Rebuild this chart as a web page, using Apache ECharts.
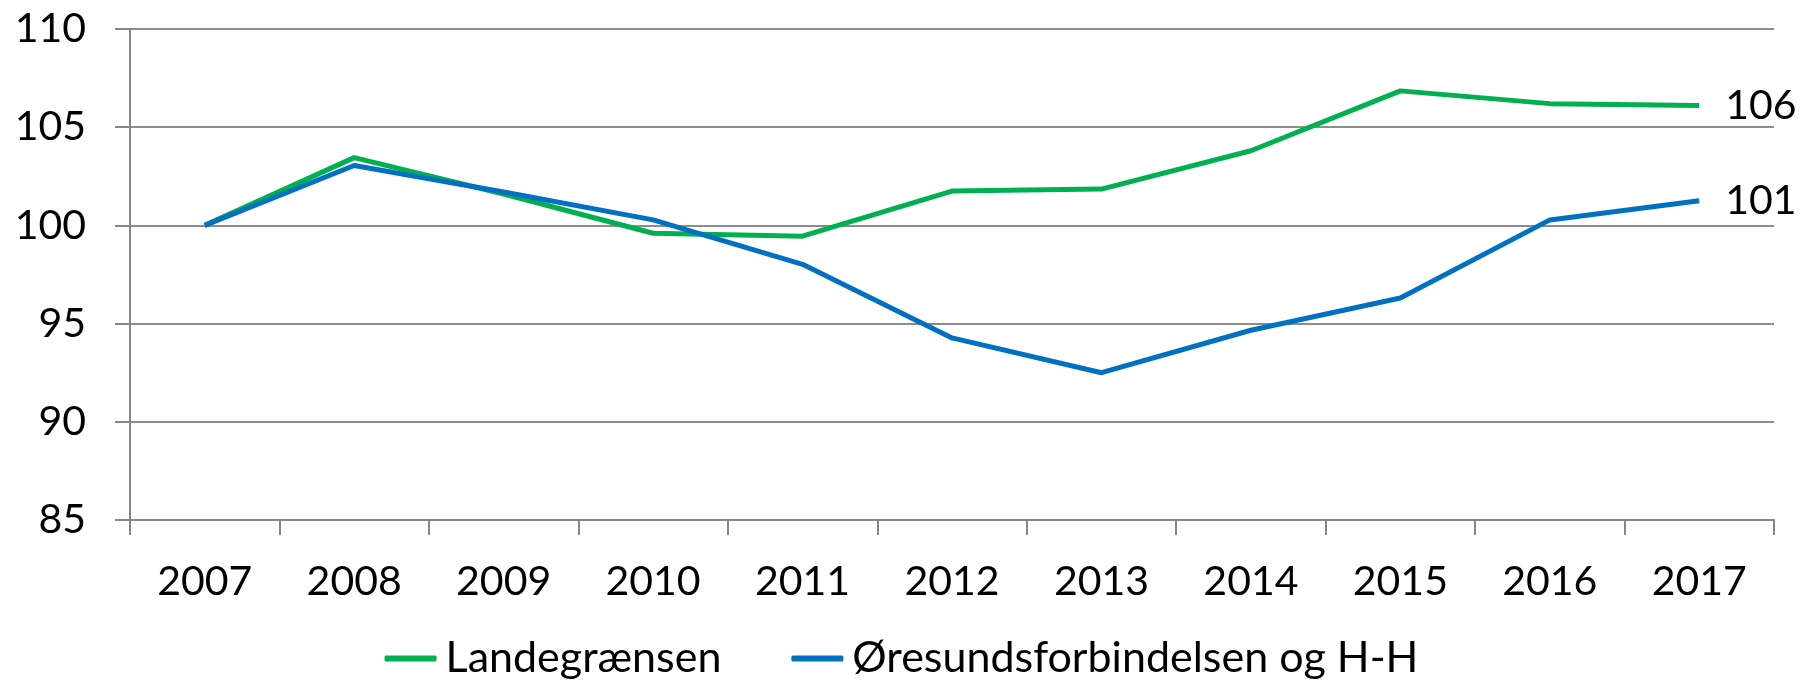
<!DOCTYPE html>
<html>
<head>
<meta charset="utf-8">
<script src="https://cdn.jsdelivr.net/npm/echarts@6/dist/echarts.min.js"></script>
<style>
html,body{margin:0;padding:0;background:#fff;}
#chart{width:1803px;height:685px;}
</style>
</head>
<body>
<div id="chart"></div>
<script>
const years = ['2007','2008','2009','2010','2011','2012','2013','2014','2015','2016','2017'];
const landegraensen = [100, 103.45, 101.6, 99.6, 99.45, 101.75, 101.85, 103.8, 106.85, 106.2, 106.1];
const oresund = [100, 103.05, 101.7, 100.28, 98.02, 94.27, 92.5, 94.66, 96.3, 100.28, 101.25];
const seriesNames = ['Landegrænsen', 'Øresundsforbindelsen og H-H'];
const yTicks = {min: 85, max: 110, interval: 5};

const FONT = 'Lato';
const chart = echarts.init(document.getElementById('chart'));
const endLabel = {
  show: true,
  formatter: p => Math.round(p.value),
  fontFamily: FONT, fontSize: 41, color: '#000', distance: 26
};
chart.setOption({
  animation: false,
  grid: {left: 130, right: 29, top: 29, bottom: 165, containLabel: false},
  legend: {
    bottom: 0, left: 'center',
    data: seriesNames,
    icon: 'roundRect', itemWidth: 52, itemHeight: 6, itemGap: 70,
    textStyle: {fontFamily: FONT, fontSize: 43, color: '#000', padding: [0,0,0,4]}
  },
  xAxis: {
    type: 'category', data: years, boundaryGap: true,
    axisLine: {lineStyle: {color: '#868686', width: 2}},
    axisTick: {show: true, length: 15, lineStyle: {color: '#868686', width: 2}},
    axisLabel: {fontFamily: FONT, fontSize: 41, color: '#000', margin: 41},
    splitLine: {show: false}
  },
  yAxis: {
    type: 'value', min: yTicks.min, max: yTicks.max, interval: yTicks.interval,
    axisLine: {show: true, lineStyle: {color: '#868686', width: 2}},
    axisTick: {show: true, length: 15, lineStyle: {color: '#868686', width: 2}},
    axisLabel: {fontFamily: FONT, fontSize: 41, color: '#000', margin: 44},
    splitLine: {lineStyle: {color: '#8c8c8c', width: 2}}
  },
  series: [
    {name: seriesNames[0], type: 'line', data: landegraensen, symbol: 'none',
     lineStyle: {color: '#00B050', width: 5}, itemStyle: {color: '#00B050'}, endLabel: endLabel},
    {name: seriesNames[1], type: 'line', data: oresund, symbol: 'none',
     lineStyle: {color: '#0070C0', width: 5}, itemStyle: {color: '#0070C0'}, endLabel: endLabel}
  ]
});
</script>
</body>
</html>
